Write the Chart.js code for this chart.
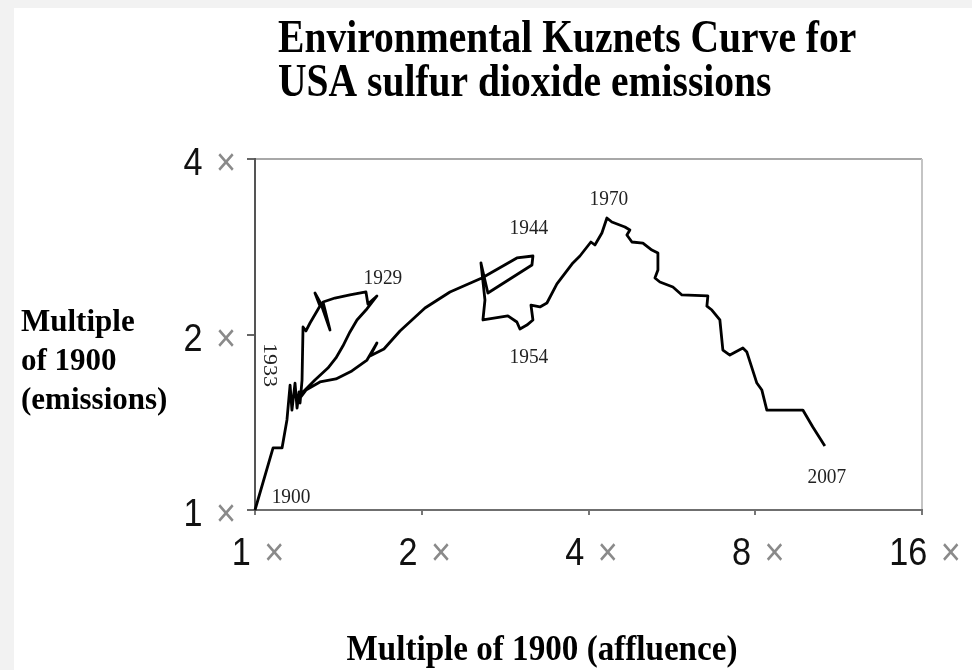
<!DOCTYPE html>
<html>
<head>
<meta charset="utf-8">
<script src="https://cdn.jsdelivr.net/npm/chart.js@4/dist/chart.umd.min.js"></script>
<style>
  html, body { margin: 0; padding: 0; background: #f2f2f2; }
  canvas { display: block; }
</style>
</head>
<body>
<canvas id="ekcChart" width="972" height="670"></canvas>
<script>
// income (x) and SO2 emissions (y), both as multiples of the 1900 level
var affluence = [
    1.000, 1.078, 1.119, 1.142, 1.157, 1.166, 1.181, 1.191, 1.201, 1.206,
    1.216, 1.221, 1.236, 1.257, 1.310, 1.283, 1.316, 1.366, 1.327, 1.394,
    1.484, 1.586, 1.599, 1.660, 1.586, 1.528, 1.484, 1.441, 1.400, 1.354,
    1.283, 1.221, 1.191, 1.236, 1.310, 1.400, 1.496, 1.593, 1.660, 1.613,
    1.709, 1.827, 2.027, 2.249, 2.568, 2.970, 3.175, 3.162, 2.633, 2.558,
    2.601, 2.579, 2.861, 2.970, 3.008, 3.096, 3.175, 3.149, 3.269, 3.365,
    3.508, 3.749, 3.860, 4.040, 4.108, 4.229, 4.318, 4.408, 4.654, 4.751,
    4.692, 4.791, 5.015, 5.206, 5.338, 5.338, 5.272, 5.382, 5.681, 5.898,
    6.570, 6.543, 6.680, 6.906, 6.993, 7.199, 7.599, 7.726, 8.053, 8.223,
    8.395, 9.750, 10.163, 10.684
];
var emissions = [
    1.000, 1.278, 1.278, 1.427, 1.638, 1.484, 1.651, 1.496, 1.594, 1.526,
    1.671, 2.060, 2.028, 2.093, 2.238, 2.356, 2.256, 2.036, 2.274, 2.310,
    2.338, 2.366, 2.256, 2.329, 2.203, 2.118, 2.020, 1.911, 1.823, 1.752,
    1.671, 1.594, 1.532, 1.606, 1.658, 1.678, 1.732, 1.808, 1.934, 1.837,
    1.889, 2.028, 2.221, 2.366, 2.500, 2.706, 2.727, 2.632, 2.356, 2.653,
    2.292, 2.118, 2.152, 2.101, 2.044, 2.076, 2.118, 2.247, 2.230, 2.265,
    2.442, 2.653, 2.727, 2.882, 2.848, 2.986, 3.169, 3.119, 3.058, 3.022,
    2.963, 2.882, 2.870, 2.792, 2.759, 2.581, 2.500, 2.461, 2.413, 2.338,
    2.329, 2.238, 2.203, 2.118, 1.881, 1.844, 1.896, 1.866, 1.651, 1.606,
    1.484, 1.484, 1.388, 1.288
];

// years written next to the curve, and which point of the series each one marks
var labelYears = ['1900', '1929', '1933', '1944', '1954', '1970', '2007'];
var labelPoints = [0, 23, 32, 46, 54, 66, 93];

var xTicks = [1, 2, 4, 8, 16];
var yTicks = [1, 2, 4];

var titleLines = ['Environmental Kuznets Curve for', 'USA sulfur dioxide emissions'];
var xTitle = 'Multiple of 1900 (affluence)';
var yTitle = ['Multiple', 'of 1900', '(emissions)'];

var SERIF = '"Liberation Serif", "Times New Roman", serif';
var SANS = '"Liberation Sans", Arial, sans-serif';

// where each year label sits relative to its point (px), 1933 runs downwards
var labelOffsets = {
    '1900': [36, -13], '1929': [6, -18], '1933': [-28, -37], '1944': [-4, -28],
    '1954': [9, 28], '1970': [2, -19], '2007': [2, 31]
};

function squeezedText(ctx, text, x, y, font, sx, color, align) {
    ctx.save();
    ctx.font = font;
    ctx.fillStyle = color;
    ctx.textAlign = align || 'left';
    ctx.textBaseline = 'alphabetic';
    ctx.translate(x, y);
    ctx.scale(sx, 1);
    ctx.fillText(text, 0, 0);
    ctx.restore();
}

// "N ×" with a black number and a grey multiplication sign
function tickLabel(ctx, value, x, y, align) {
    var sx = 0.9;
    var gap = 4;
    ctx.save();
    ctx.font = '38px ' + SANS;
    var num = String(value);
    var wNum = ctx.measureText(num).width * sx + gap;
    var wRest = ctx.measureText(' \u00d7').width * sx;
    var total = wNum + wRest;
    var left = align === 'right' ? x - total : x - total / 2;
    ctx.restore();
    squeezedText(ctx, num, left, y, '38px ' + SANS, sx, '#111');
    squeezedText(ctx, ' \u00d7', left + wNum, y, '38px ' + SANS, sx, '#8a8a8a');
}

var decorations = {
    id: 'decorations',
    beforeDraw: function(chart) {
        var ctx = chart.ctx;
        ctx.save();
        ctx.fillStyle = '#f2f2f2';
        ctx.fillRect(0, 0, chart.width, chart.height);
        ctx.fillStyle = '#ffffff';
        ctx.fillRect(14, 8, chart.width - 14, chart.height - 8);

        // light frame on top and right of the plot
        var a = chart.chartArea;
        ctx.strokeStyle = '#a8a8a8';
        ctx.lineWidth = 2;
        ctx.beginPath();
        ctx.moveTo(a.left, a.top);
        ctx.lineTo(a.right, a.top);
        ctx.stroke();
        ctx.strokeStyle = '#c4c4c4';
        ctx.beginPath();
        ctx.moveTo(a.right, a.top);
        ctx.lineTo(a.right, a.bottom);
        ctx.stroke();
        ctx.restore();
    },
    afterDraw: function(chart) {
        var ctx = chart.ctx;
        var xs = chart.scales.x, ys = chart.scales.y;

        squeezedText(ctx, titleLines[0], 278, 52, 'bold 46px ' + SERIF, 0.86, '#000');
        squeezedText(ctx, titleLines[1], 278, 96, 'bold 46px ' + SERIF, 0.86, '#000');

        xTicks.forEach(function(v) {
            tickLabel(ctx, v, xs.getPixelForValue(v) + 3, 565, 'center');
        });
        yTicks.forEach(function(v) {
            tickLabel(ctx, v, 236, ys.getPixelForValue(v) + 16, 'right');
        });

        squeezedText(ctx, xTitle, 542, 660, 'bold 36px ' + SERIF, 0.92, '#000', 'center');
        yTitle.forEach(function(line, i) {
            squeezedText(ctx, line, 21, 331 + i * 39, 'bold 31px ' + SERIF, 1, '#000');
        });

        labelYears.forEach(function(year, i) {
            var k = labelPoints[i];
            var px = xs.getPixelForValue(affluence[k]);
            var py = ys.getPixelForValue(emissions[k]);
            var off = labelOffsets[year];
            ctx.save();
            ctx.font = '22px ' + SERIF;
            ctx.fillStyle = '#222';
            ctx.textAlign = 'center';
            ctx.textBaseline = 'middle';
            ctx.translate(px + off[0], py + off[1]);
            if (year === '1933') {
                ctx.rotate(Math.PI / 2);
                ctx.scale(1, 0.85);
            } else {
                ctx.scale(0.88, 1);
            }
            ctx.fillText(year, 0, 0);
            ctx.restore();
        });
    }
};

var points = affluence.map(function(x, i) {
    return { x: x, y: emissions[i] };
});

var chart = new Chart(document.getElementById('ekcChart'), {
    type: 'scatter',
    data: {
        datasets: [{
            data: points,
            showLine: true,
            borderColor: '#000',
            borderWidth: 2.8,
            borderJoinStyle: 'round',
            pointRadius: 0,
            tension: 0,
            clip: false
        }]
    },
    options: {
        responsive: false,
        devicePixelRatio: 1,
        animation: false,
        layout: { padding: { top: 159, right: 50, bottom: 0, left: 0 } },
        plugins: {
            legend: { display: false },
            title: { display: false },
            tooltip: { enabled: false }
        },
        scales: {
            x: {
                type: 'logarithmic',
                min: 1,
                max: 16,
                afterBuildTicks: function(s) { s.ticks = xTicks.map(function(v) { return { value: v }; }); },
                afterFit: function(s) { s.height = 160; },
                ticks: { display: false },
                grid: { drawOnChartArea: false, drawTicks: true, tickLength: 5, color: '#777', lineWidth: 2 },
                border: { display: true, color: '#6f6f6f', width: 2 }
            },
            y: {
                type: 'logarithmic',
                min: 1,
                max: 4,
                afterBuildTicks: function(s) { s.ticks = yTicks.map(function(v) { return { value: v }; }); },
                afterFit: function(s) { s.width = 255; },
                ticks: { display: false },
                grid: { drawOnChartArea: false, drawTicks: true, tickLength: 8, color: '#666', lineWidth: 2 },
                border: { display: true, color: '#555', width: 2 }
            }
        }
    },
    plugins: [decorations]
});
</script>
</body>
</html>
